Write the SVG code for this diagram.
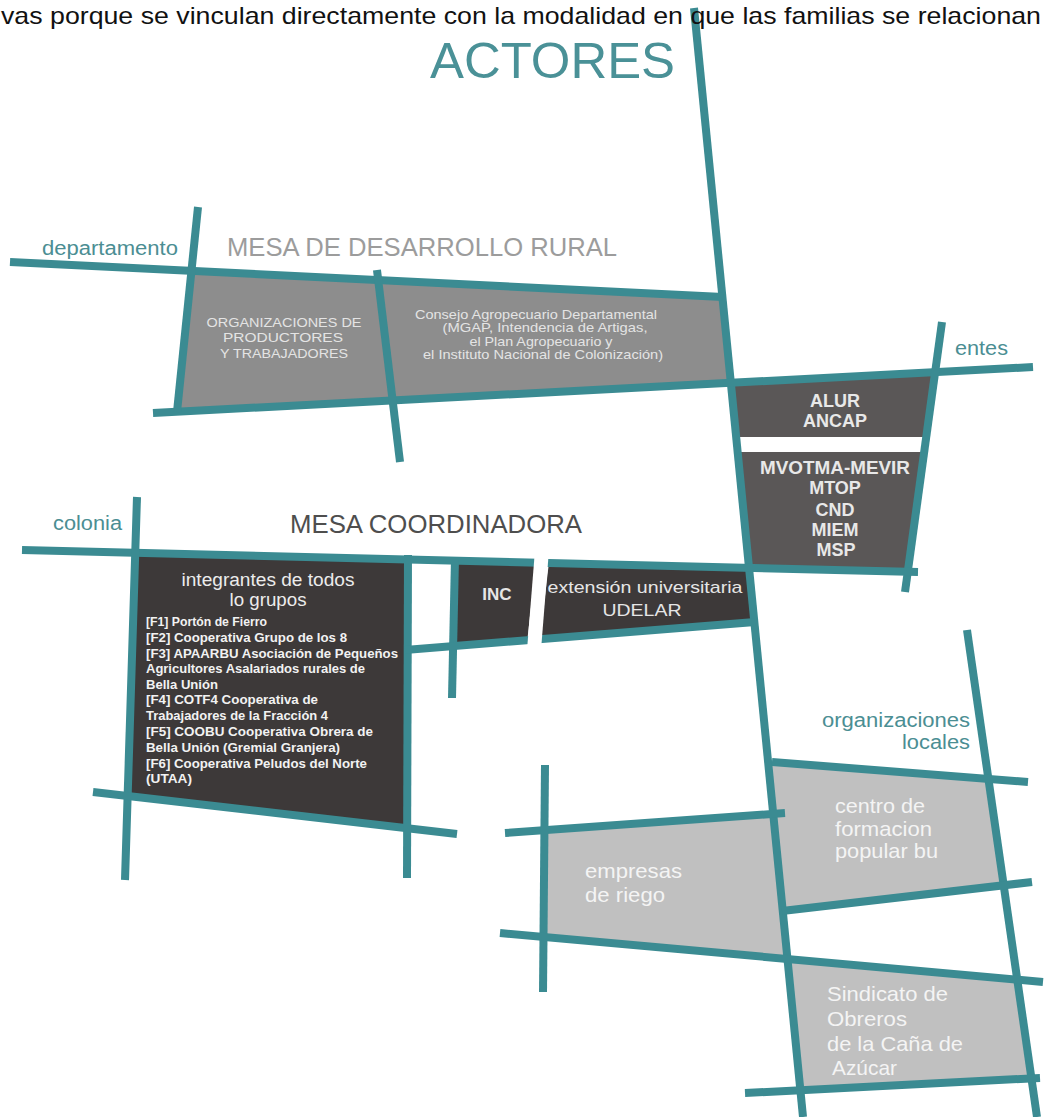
<svg xmlns="http://www.w3.org/2000/svg" width="1044" height="1117" viewBox="0 0 1044 1117">
<style>
  text { font-family: "Liberation Sans", Arial, sans-serif; }
  .ln { stroke: #3b8b92; stroke-width: 8; fill: none; stroke-linecap: butt; }
  .lbl { fill: #4b8e93; font-size: 20px; }
  .mid { fill: #8d8d8d; }
  .dark { fill: #3d3939; }
  .alur { fill: #5a5757; }
  .light { fill: #c0c0c0; }
  .tmid { fill: #e4e4e4; font-size: 13px; text-anchor: middle; }
  .tent { fill: #e8e8e8; font-size: 18px; font-weight: bold; text-anchor: middle; }
  .tlist { fill: #f2f2f2; font-size: 12px; font-weight: bold; }
  .tlight { fill: #f4f4f4; font-size: 21px; }
</style>
<rect width="1044" height="1117" fill="#ffffff"/>

<!-- fills -->
<g id="org-productores">
  <polygon class="mid" points="192,271 381,280 394,401 178,412"/>
</g>
<g id="consejo">
  <polygon class="mid" points="381,280 723,297 731,383 394,401"/>
</g>
<g id="alur-ancap">
  <polygon class="alur" points="731,382 935,372 926,437 737,437"/>
</g>
<g id="ministerios">
  <polygon class="alur" points="738,452 924,452 908,572 749,568"/>
</g>
<g id="integrantes">
  <polygon class="dark" points="135,553 407,559 407,828 127,796"/>
</g>
<g id="inc">
  <polygon class="dark" points="453,560 536,562 527,643 453,646"/>
</g>
<g id="extension">
  <polygon class="dark" points="549,562 750,567 754,622 540,640"/>
</g>
<g id="centro">
  <polygon class="light" points="769,762 988,779 1004,887 783,911"/>
</g>
<g id="empresas">
  <polygon class="light" points="545,830 773,814 788,959 545,937"/>
</g>
<g id="sindicato">
  <polygon class="light" points="788,959 1017,980 1032,1079 800,1090"/>
</g>

<!-- connectors / grid lines -->
<g id="connectors">
  <line class="ln" x1="694" y1="8" x2="803" y2="1117"/>
  <line class="ln" x1="10" y1="262" x2="723" y2="297"/>
  <line class="ln" x1="153" y1="413" x2="1033" y2="367"/>
  <line class="ln" x1="198" y1="207" x2="177" y2="412"/>
  <line class="ln" x1="377" y1="270" x2="400" y2="462"/>
  <line class="ln" x1="942" y1="322" x2="905" y2="592"/>
  <line class="ln" x1="22" y1="550" x2="918" y2="572"/>
  <line class="ln" x1="137" y1="497" x2="125" y2="880"/>
  <line class="ln" x1="93" y1="792" x2="457" y2="834"/>
  <line class="ln" x1="408" y1="555" x2="407" y2="878"/>
  <line class="ln" x1="455" y1="558" x2="452" y2="698"/>
  <line class="ln" x1="405" y1="650" x2="755" y2="622"/>
  <line class="ln" x1="967" y1="630" x2="1037" y2="1117"/>
  <line class="ln" x1="772" y1="762" x2="1028" y2="782"/>
  <line class="ln" x1="782" y1="911" x2="1032" y2="882"/>
  <line class="ln" x1="505" y1="833" x2="785" y2="813"/>
  <line class="ln" x1="545" y1="765" x2="543" y2="992"/>
  <line class="ln" x1="500" y1="933" x2="1043" y2="982"/>
  <line class="ln" x1="745" y1="1093" x2="1040" y2="1078"/>
  <polygon points="535,550 549,550 541,650 527,650" fill="#ffffff"/>
</g>

<!-- texts -->
<g id="title">
  <text x="1" y="24" font-size="24" fill="#111111" textLength="1040" lengthAdjust="spacingAndGlyphs">vas porque se vinculan directamente con la modalidad en que las familias se relacionan</text>
  <text x="430" y="78" font-size="50" fill="#4a9197" textLength="245" lengthAdjust="spacingAndGlyphs">ACTORES</text>
</g>

<g id="mesa-desarrollo-rural">
  <text class="lbl" x="42" y="255" textLength="136" lengthAdjust="spacingAndGlyphs">departamento</text>
  <text x="227" y="256" font-size="26" fill="#9c9c9c" textLength="390" lengthAdjust="spacingAndGlyphs">MESA DE DESARROLLO RURAL</text>
</g>

<g id="org-productores-text">
  <text class="tmid" x="284" y="327" textLength="155" lengthAdjust="spacingAndGlyphs">ORGANIZACIONES DE</text>
  <text class="tmid" x="283" y="342" textLength="120" lengthAdjust="spacingAndGlyphs">PRODUCTORES</text>
  <text class="tmid" x="284" y="358" textLength="128" lengthAdjust="spacingAndGlyphs">Y TRABAJADORES</text>
</g>

<g id="consejo-text">
  <text class="tmid" x="536" y="319" textLength="242" lengthAdjust="spacingAndGlyphs">Consejo Agropecuario Departamental</text>
  <text class="tmid" x="545" y="332" textLength="205" lengthAdjust="spacingAndGlyphs">(MGAP, Intendencia de Artigas,</text>
  <text class="tmid" x="541" y="346" textLength="143" lengthAdjust="spacingAndGlyphs">el Plan Agropecuario y</text>
  <text class="tmid" x="543" y="359" textLength="240" lengthAdjust="spacingAndGlyphs">el Instituto Nacional de Colonización)</text>
</g>

<g id="entes">
  <text class="lbl" x="955" y="355" textLength="53" lengthAdjust="spacingAndGlyphs">entes</text>
  <text class="tent" x="835" y="407">ALUR</text>
  <text class="tent" x="835" y="427">ANCAP</text>
  <text class="tent" x="835" y="474" textLength="150" lengthAdjust="spacingAndGlyphs">MVOTMA-MEVIR</text>
  <text class="tent" x="835" y="494">MTOP</text>
  <text class="tent" x="835" y="516">CND</text>
  <text class="tent" x="835" y="536">MIEM</text>
  <text class="tent" x="836" y="556">MSP</text>
</g>

<g id="mesa-coordinadora">
  <text class="lbl" x="53" y="530" textLength="69" lengthAdjust="spacingAndGlyphs">colonia</text>
  <text x="290" y="533" font-size="25" fill="#4e4e4e" textLength="292" lengthAdjust="spacingAndGlyphs">MESA COORDINADORA</text>
</g>

<g id="integrantes-text">
  <text x="268" y="586" font-size="18" fill="#ececec" text-anchor="middle" textLength="173" lengthAdjust="spacingAndGlyphs">integrantes de todos</text>
  <text x="268" y="606" font-size="18" fill="#ececec" text-anchor="middle" textLength="77" lengthAdjust="spacingAndGlyphs">lo grupos</text>
  <text class="tlist" x="146" y="626" textLength="121" lengthAdjust="spacingAndGlyphs">[F1] Portón de Fierro</text>
  <text class="tlist" x="146" y="641.5" textLength="201" lengthAdjust="spacingAndGlyphs">[F2] Cooperativa Grupo de los 8</text>
  <text class="tlist" x="146" y="657.5" textLength="252" lengthAdjust="spacingAndGlyphs">[F3] APAARBU Asociación de Pequeños</text>
  <text class="tlist" x="146" y="673" textLength="219" lengthAdjust="spacingAndGlyphs">Agricultores Asalariados rurales de</text>
  <text class="tlist" x="146" y="689" textLength="72" lengthAdjust="spacingAndGlyphs">Bella Unión</text>
  <text class="tlist" x="146" y="704" textLength="172" lengthAdjust="spacingAndGlyphs">[F4] COTF4 Cooperativa de</text>
  <text class="tlist" x="146" y="720" textLength="182" lengthAdjust="spacingAndGlyphs">Trabajadores de la Fracción 4</text>
  <text class="tlist" x="146" y="735.5" textLength="227" lengthAdjust="spacingAndGlyphs">[F5] COOBU Cooperativa Obrera de</text>
  <text class="tlist" x="146" y="751.5" textLength="194" lengthAdjust="spacingAndGlyphs">Bella Unión (Gremial Granjera)</text>
  <text class="tlist" x="146" y="767.5" textLength="221" lengthAdjust="spacingAndGlyphs">[F6] Cooperativa Peludos del Norte</text>
  <text class="tlist" x="146" y="783" textLength="46" lengthAdjust="spacingAndGlyphs">(UTAA)</text>
</g>

<g id="inc-text">
  <text x="497" y="600" font-size="17" font-weight="bold" fill="#e6e6e6" text-anchor="middle">INC</text>
</g>
<g id="extension-text">
  <text x="645" y="593" font-size="17" fill="#e6e6e6" text-anchor="middle" textLength="195" lengthAdjust="spacingAndGlyphs">extensión universitaria</text>
  <text x="642" y="616" font-size="17" fill="#e6e6e6" text-anchor="middle" textLength="79" lengthAdjust="spacingAndGlyphs">UDELAR</text>
</g>

<g id="organizaciones-locales">
  <text class="lbl" x="970" y="727" text-anchor="end" textLength="148" lengthAdjust="spacingAndGlyphs">organizaciones</text>
  <text class="lbl" x="970" y="749" text-anchor="end" textLength="68" lengthAdjust="spacingAndGlyphs">locales</text>
</g>

<g id="centro-text">
  <text class="tlight" x="835" y="813" textLength="90" lengthAdjust="spacingAndGlyphs">centro de</text>
  <text class="tlight" x="835" y="835.5" textLength="97" lengthAdjust="spacingAndGlyphs">formacion</text>
  <text class="tlight" x="835" y="858" textLength="103" lengthAdjust="spacingAndGlyphs">popular bu</text>
</g>

<g id="empresas-text">
  <text class="tlight" x="585" y="878" textLength="97" lengthAdjust="spacingAndGlyphs">empresas</text>
  <text class="tlight" x="585" y="902" textLength="80" lengthAdjust="spacingAndGlyphs">de riego</text>
</g>

<g id="sindicato-text">
  <text class="tlight" x="827" y="1001" textLength="121" lengthAdjust="spacingAndGlyphs">Sindicato de</text>
  <text class="tlight" x="827" y="1026" textLength="80" lengthAdjust="spacingAndGlyphs">Obreros</text>
  <text class="tlight" x="827" y="1051" textLength="136" lengthAdjust="spacingAndGlyphs">de la Caña de</text>
  <text class="tlight" x="832" y="1075" textLength="65" lengthAdjust="spacingAndGlyphs">Azúcar</text>
</g>
</svg>
